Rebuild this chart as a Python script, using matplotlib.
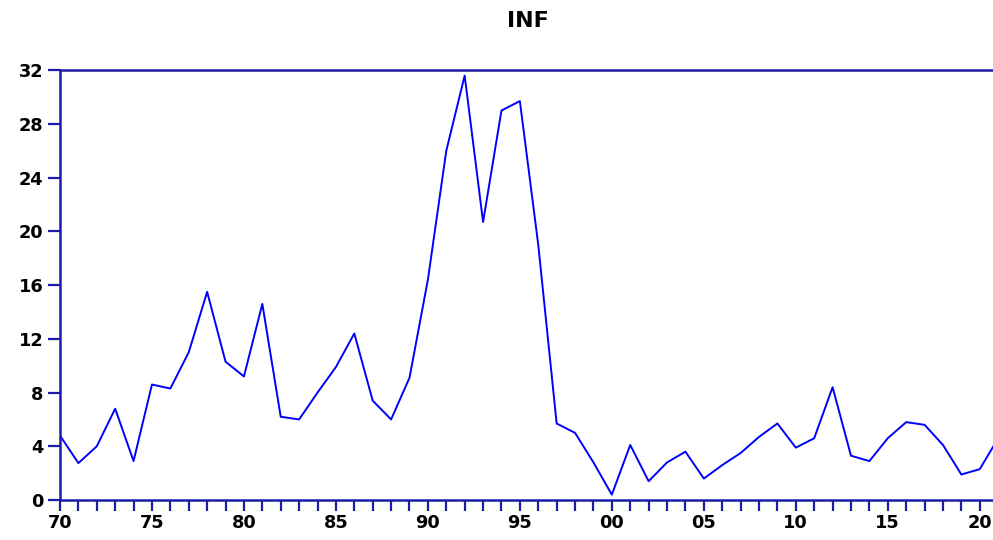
import numpy as np
import matplotlib.pyplot as plt
from matplotlib.ticker import MultipleLocator, FixedLocator

# INF series, annual 1970-2021
years = list(range(1970, 2022))
inf = [4.8, 2.75, 4.0, 6.8, 2.9, 8.6, 8.3, 11.0, 15.5, 10.3,
       9.2, 14.6, 6.2, 6.0, 8.0, 9.9, 12.4, 7.4, 6.0, 9.1,
       16.4, 26.0, 31.6, 20.7, 29.0, 29.7, 19.0, 5.7, 5.0, 2.8,
       0.4, 4.1, 1.4, 2.8, 3.6, 1.6, 2.6, 3.5, 4.7, 5.7,
       3.9, 4.6, 8.4, 3.3, 2.9, 4.6, 5.8, 5.6, 4.1, 1.9,
       2.3, 4.6]
x_ticks = [1970, 1975, 1980, 1985, 1990, 1995, 2000, 2005, 2010, 2015, 2020]
x_labels = ['70', '75', '80', '85', '90', '95', '00', '05', '10', '15', '20']
y_ticks = [0, 4, 8, 12, 16, 20, 24, 28, 32]

axis_col = '#1c1ca8'
plt.rcParams['font.family'] = ['DejaVu Sans']

fig = plt.figure(figsize=(9.93, 5.40), dpi=100)
ax = fig.add_axes([0.0604, 0.074, 0.9396, 0.796])

ax.plot(years, inf, color='#0000ff', lw=1.4)

ax.set_xlim(1970, 2020.72)
ax.set_ylim(0, 32)
ax.xaxis.set_major_locator(FixedLocator(x_ticks))
ax.xaxis.set_minor_locator(MultipleLocator(1))
ax.set_xticklabels(x_labels)
ax.set_yticks(y_ticks)

for side in ['left', 'top', 'bottom']:
    ax.spines[side].set_color(axis_col)
    ax.spines[side].set_linewidth(1.8)
ax.spines['right'].set_visible(False)

ax.tick_params(axis='both', which='both', direction='out', color=axis_col,
               width=1.6, labelsize=12.8)
ax.tick_params(axis='x', which='both', length=8, pad=2)
ax.tick_params(axis='y', which='major', length=9, pad=3)
for lab in ax.get_xticklabels() + ax.get_yticklabels():
    lab.set_fontweight('heavy')

fig.text(0.532, 0.961, 'INF', ha='center', va='center',
         fontsize=16, fontweight='heavy')

fig.savefig('out.png', dpi=100)
